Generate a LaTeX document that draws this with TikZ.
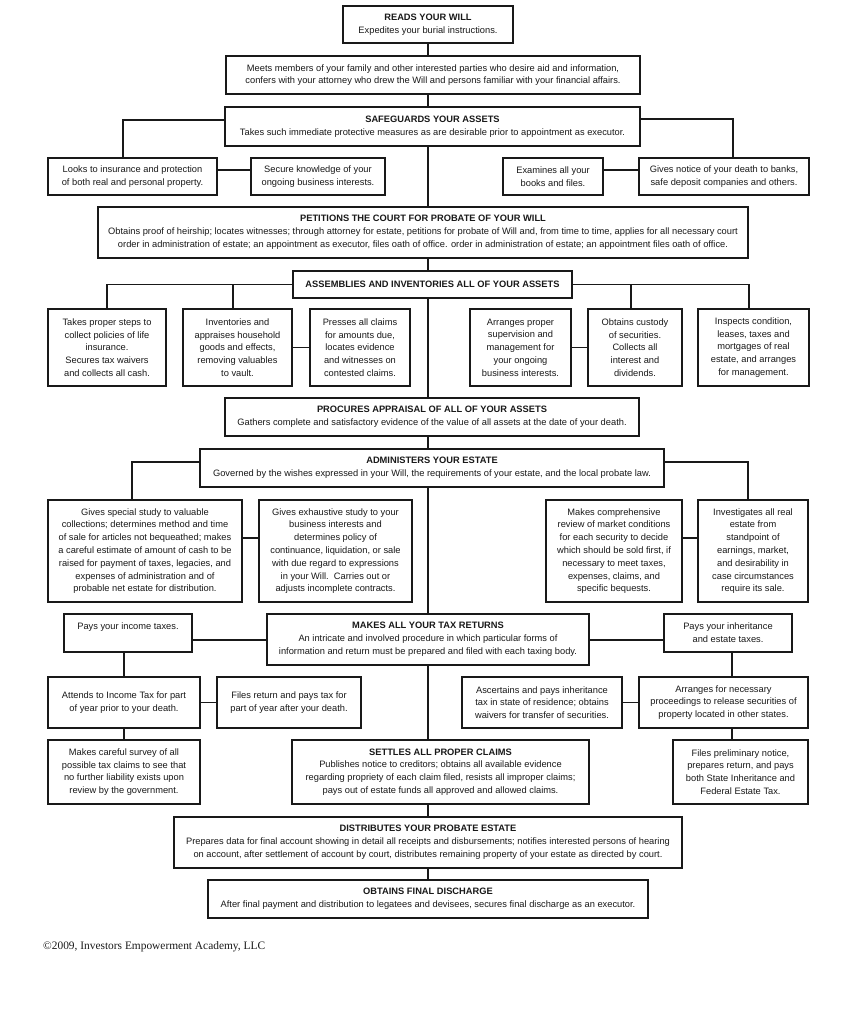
\documentclass[tikz,border=0pt]{standalone}
\usepackage{fontspec}
\setmainfont{Liberation Sans}
\newfontfamily\copyfont{Liberation Serif}
\usepackage{tikz}
\usetikzlibrary{positioning,calc}
\definecolor{inkline}{RGB}{25,25,25}
\newcommand{\dutyfont}{\fontsize{9.3pt}{12.8pt}\selectfont}

\begin{document}
\begin{tikzpicture}[
  x=1pt, y=-1pt,
  duty/.style={draw=inkline, line width=1.6pt, fill=white, align=center,
    inner sep=1pt, font=\dutyfont, text=inkline},
  tie/.style={draw=inkline, line width=1.6pt}
]
  \useasboundingbox (0,0) rectangle (855,1024);
  \coordinate (spine) at (428,0);

  % --- Top of the chain ---
  \node[duty, minimum width=170pt, minimum height=37pt] (reads) at (428,24.5)
    {\textbf{READS YOUR WILL}\\Expedites your burial instructions.};
  \node[duty, minimum width=414pt, minimum height=38pt] (meets) at (433,75)
    {Meets members of your family and other interested parties who desire aid and information,\\confers with your attorney who drew the Will and persons familiar with your financial affairs.};
  \node[duty, minimum width=415pt, minimum height=39pt] (safe) at (432.5,126.5)
    {\textbf{SAFEGUARDS YOUR ASSETS}\\Takes such immediate protective measures as are desirable prior to appointment as executor.};

  % --- Safeguards branches ---
  \node[duty, minimum width=169pt, minimum height=37pt] (insur)  at (132.5,176.5)
    {Looks to insurance and protection\\of both real and personal property.};
  \node[duty, minimum width=134pt, minimum height=37pt] (secure) at (318,176.5)
    {Secure knowledge of your\\ongoing business interests.};
  \node[duty, minimum width=100pt, minimum height=37pt] (exam)   at (553,176.5)
    {Examines all your\\books and files.};
  \node[duty, minimum width=170pt, minimum height=37pt] (notice) at (724,176.5)
    {Gives notice of your death to banks,\\safe deposit companies and others.};

  \draw[tie] (safe.west |- 0,120) -| ([xshift=-9.5pt]insur.north);
  \draw[tie] (insur.east |- 0,170) -- (secure.west |- 0,170);
  \draw[tie] (safe.east |- 0,119) -| ([xshift=9pt]notice.north);
  \draw[tie] (exam.east |- 0,170) -- (notice.west |- 0,170);

  % --- Court and inventory ---
  \node[duty, minimum width=650pt, minimum height=51pt] (petit) at (423,232.5)
    {\textbf{PETITIONS THE COURT FOR PROBATE OF YOUR WILL}\\Obtains proof of heirship; locates witnesses; through attorney for estate, petitions for probate of Will and, from time to time, applies for all necessary court\\order in administration of estate; an appointment as executor, files oath of office. order in administration of estate; an appointment files oath of office.};
  \node[duty, minimum width=279pt, minimum height=27pt] (assem) at (432.5,284.5)
    {\textbf{ASSEMBLIES AND INVENTORIES ALL OF YOUR ASSETS}};

  \node[duty, minimum width=118pt, minimum height=77pt] (takes)   at (107,347.5)
    {Takes proper steps to\\collect policies of life\\insurance.\\Secures tax waivers\\and collects all cash.};
  \node[duty, minimum width=109pt, minimum height=77pt] (invent)  at (237.5,347.5)
    {Inventories and\\appraises household\\goods and effects,\\removing valuables\\to vault.};
  \node[duty, minimum width=100pt, minimum height=77pt] (presses) at (360,347.5)
    {Presses all claims\\for amounts due,\\locates evidence\\and witnesses on\\contested claims.};
  \node[duty, minimum width=101pt, minimum height=77pt] (arrang)  at (520.5,347.5)
    {Arranges proper\\supervision and\\management for\\your ongoing\\business interests.};
  \node[duty, minimum width=94pt, minimum height=77pt]  (custody) at (635,347.5)
    {Obtains custody\\of securities.\\Collects all\\interest and\\dividends.};
  \node[duty, minimum width=111pt, minimum height=77pt] (inspect) at (753.5,347.5)
    {Inspects condition,\\leases, taxes and\\mortgages of real\\estate, and arranges\\for management.};

  \draw[tie] (assem.west) -| (takes.north);
  \draw[tie] ([xshift=-4.5pt]invent.north) -- ([xshift=-4.5pt]invent.north |- assem.west);
  \draw[tie] (invent.east) -- (presses.west);
  \draw[tie] (assem.east) -| ([xshift=-4.5pt]inspect.north);
  \draw[tie] ([xshift=-4pt]custody.north) -- ([xshift=-4pt]custody.north |- assem.east);
  \draw[tie] (arrang.east) -- (custody.west);

  % --- Appraisal and administration ---
  \node[duty, minimum width=414pt, minimum height=38pt] (procure) at (432,417)
    {\textbf{PROCURES APPRAISAL OF ALL OF YOUR ASSETS}\\Gathers complete and satisfactory evidence of the value of all assets at the date of your death.};
  \node[duty, minimum width=464pt, minimum height=38pt] (admin) at (432,468)
    {\textbf{ADMINISTERS YOUR ESTATE}\\Governed by the wishes expressed in your Will, the requirements of your estate, and the local probate law.};

  \node[duty, minimum width=194pt, minimum height=102pt] (special) at (145,551)
    {Gives special study to valuable\\collections; determines method and time\\of sale for articles not bequeathed; makes\\a careful estimate of amount of cash to be\\raised for payment of taxes, legacies, and\\expenses of administration and of\\probable net estate for distribution.};
  \node[duty, minimum width=153pt, minimum height=102pt] (exhaust) at (335.5,551)
    {Gives exhaustive study to your\\business interests and\\determines policy of\\continuance, liquidation, or sale\\with due regard to expressions\\in your Will.\ \ Carries out or\\adjusts incomplete contracts.};
  \node[duty, minimum width=136pt, minimum height=102pt] (market)  at (614,551)
    {Makes comprehensive\\review of market conditions\\for each security to decide\\which should be sold first, if\\necessary to meet taxes,\\expenses, claims, and\\specific bequests.};
  \node[duty, minimum width=110pt, minimum height=102pt] (realest) at (753,551)
    {Investigates all real\\estate from\\standpoint of\\earnings, market,\\and desirability in\\case circumstances\\require its sale.};

  \draw[tie] (admin.west |- 0,462) -| ([xshift=-13pt]special.north);
  \draw[tie] (special.east |- 0,538) -- (exhaust.west |- 0,538);
  \draw[tie] (admin.east |- 0,462) -| ([xshift=-5pt]realest.north);
  \draw[tie] (market.east |- 0,538) -- (realest.west |- 0,538);

  % --- Tax returns ---
  \node[duty, minimum width=128pt, minimum height=38pt, text depth=14pt] (income) at (128,633)
    {Pays your income taxes.};
  \node[duty, minimum width=322pt, minimum height=51pt] (taxret)  at (428,639.5)
    {\textbf{MAKES ALL YOUR TAX RETURNS}\\An intricate and involved procedure in which particular forms of\\information and return must be prepared and filed with each taxing body.};
  \node[duty, minimum width=128pt, minimum height=38pt] (inherit) at (728,633)
    {Pays your inheritance\\and estate taxes.};

  \node[duty, minimum width=152pt, minimum height=51pt] (attends)  at (124,702.5)
    {Attends to Income Tax for part\\of year prior to your death.};
  \node[duty, minimum width=144pt, minimum height=51pt] (filesret) at (289,702.5)
    {Files return and pays tax for\\part of year after your death.};
  \node[duty, minimum width=160pt, minimum height=51pt] (ascert)   at (542,702.5)
    {Ascertains and pays inheritance\\tax in state of residence; obtains\\waivers for transfer of securities.};
  \node[duty, minimum width=169pt, minimum height=51pt] (arrsec)   at (723.5,702.5)
    {Arranges for necessary\\proceedings to release securities of\\property located in other states.};

  \node[duty, minimum width=152pt, minimum height=64pt] (survey)  at (124,772)
    {Makes careful survey of all\\possible tax claims to see that\\no further liability exists upon\\review by the government.};
  \node[duty, minimum width=297pt, minimum height=64pt] (settles) at (440.5,772)
    {\textbf{SETTLES ALL PROPER CLAIMS}\\Publishes notice to creditors; obtains all available evidence\\regarding propriety of each claim filed, resists all improper claims;\\pays out of estate funds all approved and allowed claims.};
  \node[duty, minimum width=135pt, minimum height=64pt] (prelim)  at (740.5,772)
    {Files preliminary notice,\\prepares return, and pays\\both State Inheritance and\\Federal Estate Tax.};

  \draw[tie] (income.east |- 0,640) -- (taxret.west |- 0,640);
  \draw[tie] (taxret.east |- 0,640) -- (inherit.west |- 0,640);
  \draw[tie] (attends.north |- income.south) -- (attends.north);
  \draw[tie] (attends.east) -- (filesret.west);
  \draw[tie] (attends.south) -- (survey.north);
  \draw[tie] ([xshift=4pt]inherit.south) -- ([xshift=4pt]inherit.south |- arrsec.north);
  \draw[tie] (ascert.east) -- (arrsec.west);
  \draw[tie] ([xshift=-8.5pt]prelim.north |- arrsec.south) -- ([xshift=-8.5pt]prelim.north);

  % --- Closing steps ---
  \node[duty, minimum width=508pt, minimum height=51pt] (distrib) at (428,842.5)
    {\textbf{DISTRIBUTES YOUR PROBATE ESTATE}\\Prepares data for final account showing in detail all receipts and disbursements; notifies interested persons of hearing\\on account, after settlement of account by court, distributes remaining property of your estate as directed by court.};
  \node[duty, minimum width=440pt, minimum height=38pt] (final) at (428,899)
    {\textbf{OBTAINS FINAL DISCHARGE}\\After final payment and distribution to legatees and devisees, secures final discharge as an executor.};

  % --- Main spine ---
  \foreach \a/\b in {reads/meets, meets/safe, safe/petit, petit/assem,
    assem/procure, procure/admin, admin/taxret, taxret/settles,
    settles/distrib, distrib/final}
    \draw[tie] (spine |- \a.south) -- (spine |- \b.north);

  \node[anchor=west, inner sep=0pt, font=\copyfont\fontsize{11.4pt}{13pt}\selectfont, text=inkline]
    (credit) at (43,947) {\textcopyright 2009, Investors Empowerment Academy, LLC};
\end{tikzpicture}
\end{document}
